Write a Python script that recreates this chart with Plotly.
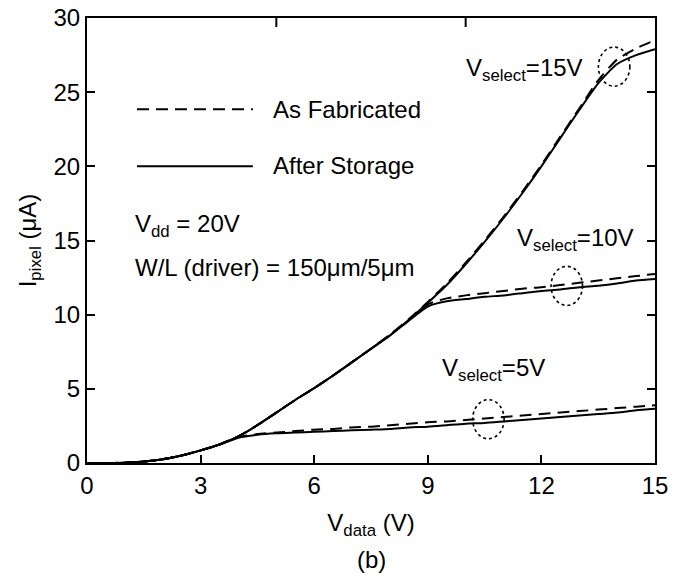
import plotly.graph_objects as go

v_data = [0, 0.5, 1, 1.5, 2, 2.5, 3, 3.5, 4, 4.5, 5, 5.5, 6, 6.5, 7, 7.5, 8, 8.5, 9,
          9.5, 10, 10.5, 11, 11.5, 12, 12.5, 13, 13.5, 14, 14.5, 15]

# V_select = 15 V
i15_fab = [0, 0, 0.02, 0.1, 0.25, 0.5, 0.85, 1.25, 1.8, 2.55, 3.4, 4.25, 5.05, 5.9, 6.8, 7.7, 8.65, 9.7,
           10.85, 12.1, 13.5, 15.0, 16.6, 18.3, 20.1, 22.0, 23.9, 25.8, 27.2, 27.95, 28.5]
i15_sto = [0, 0, 0.02, 0.1, 0.25, 0.5, 0.85, 1.25, 1.8, 2.55, 3.4, 4.25, 5.05, 5.9, 6.8, 7.7, 8.6, 9.65,
           10.8, 12.0, 13.4, 14.9, 16.5, 18.2, 20.0, 21.9, 23.8, 25.6, 26.9, 27.5, 27.9]

# V_select = 10 V
i10_fab = [0, 0, 0.02, 0.1, 0.25, 0.5, 0.85, 1.25, 1.8, 2.55, 3.4, 4.25, 5.05, 5.9, 6.8, 7.7, 8.65, 9.65,
           10.7, 11.1, 11.3, 11.45, 11.6, 11.75, 11.85, 12.0, 12.15, 12.3, 12.45, 12.6, 12.75]
i10_sto = [0, 0, 0.02, 0.1, 0.25, 0.5, 0.85, 1.25, 1.8, 2.55, 3.4, 4.25, 5.05, 5.9, 6.8, 7.7, 8.6, 9.6,
           10.55, 10.9, 11.05, 11.2, 11.3, 11.45, 11.6, 11.7, 11.85, 11.95, 12.1, 12.3, 12.4]

# V_select = 5 V
i5_fab = [0, 0, 0.02, 0.1, 0.25, 0.5, 0.85, 1.25, 1.75, 1.95, 2.05, 2.15, 2.25, 2.3, 2.4, 2.45, 2.55,
          2.65, 2.75, 2.8, 2.9, 3.0, 3.1, 3.2, 3.3, 3.4, 3.5, 3.6, 3.7, 3.8, 3.9]
i5_sto = [0, 0, 0.02, 0.1, 0.25, 0.5, 0.85, 1.25, 1.7, 1.9, 2.0, 2.05, 2.1, 2.15, 2.2, 2.25, 2.3,
          2.4, 2.45, 2.55, 2.65, 2.7, 2.8, 2.9, 3.0, 3.1, 3.2, 3.3, 3.4, 3.55, 3.65]

x_ticks = [0, 3, 6, 9, 12, 15]
y_ticks = [0, 5, 10, 15, 20, 25, 30]
top_ticks = [5, 10]

FONT = "Liberation Sans, Arial, sans-serif"
DASH = "12px,7px"

fig = go.Figure()
for fab, sto in [(i15_fab, i15_sto), (i10_fab, i10_sto), (i5_fab, i5_sto)]:
    fig.add_trace(go.Scatter(x=v_data, y=sto, mode="lines",
                             line=dict(color="black", width=2, shape="spline", smoothing=0.6),
                             showlegend=False, hoverinfo="skip"))
    fig.add_trace(go.Scatter(x=v_data, y=fab, mode="lines",
                             line=dict(color="black", width=2, dash=DASH, shape="spline", smoothing=0.6),
                             showlegend=False, hoverinfo="skip"))

shapes = []
# top-edge tick marks
for t in top_ticks:
    shapes.append(dict(type="line", xref="x", yref="paper", x0=t, x1=t, y0=1, y1=1 - 9 / 445,
                       line=dict(color="black", width=2), layer="above"))
# legend lines
shapes.append(dict(type="line", xref="x", yref="y", x0=1.32, x1=4.38, y0=23.85, y1=23.85,
                   line=dict(color="black", width=2, dash=DASH)))
shapes.append(dict(type="line", xref="x", yref="y", x0=1.32, x1=4.38, y0=20.0, y1=20.0,
                   line=dict(color="black", width=2)))
# dotted ellipses
for cx, cy in [(13.92, 26.72), (12.67, 11.94), (10.6, 2.95)]:
    shapes.append(dict(type="circle", xref="x", yref="y", x0=cx - 0.415, x1=cx + 0.415,
                       y0=cy - 1.32, y1=cy + 1.32, line=dict(color="black", width=1.6, dash="dot")))

ann = []
def txt(x, y, s, xanchor="left"):
    ann.append(dict(x=x, y=y, xref="x", yref="y", text=s, showarrow=False, xanchor=xanchor,
                    yanchor="middle", font=dict(family=FONT, size=24, color="black")))

txt(4.85, 23.85, "As Fabricated")
txt(4.85, 20.05, "After Storage")
txt(1.22, 16.03, "V<sub>dd</sub> = 20V")
txt(1.22, 13.15, "W/L (driver) = 150μm/5μm")
txt(9.95, 26.55, "V<sub>select</sub>=15V")
txt(11.3, 15.1, "V<sub>select</sub>=10V")
txt(9.33, 6.3, "V<sub>select</sub>=5V")

ann.append(dict(x=0.5, y=-0.216, xref="paper", yref="paper", text="(b)", showarrow=False,
                xanchor="center", yanchor="middle", font=dict(family=FONT, size=24, color="black")))

fig.update_layout(
    width=681, height=573,
    margin=dict(l=87, r=26, t=18, b=110, autoexpand=False),
    paper_bgcolor="white", plot_bgcolor="white",
    font=dict(family=FONT, size=24, color="black"),
    shapes=shapes, annotations=ann,
    xaxis=dict(range=[0, 15], tickvals=x_ticks, ticktext=[str(t) for t in x_ticks],
               ticks="inside", ticklen=8, tickwidth=2, tickcolor="black",
               showline=True, linecolor="black", linewidth=2, mirror=True,
               showgrid=False, zeroline=False, automargin=False, ticklabeloverflow="allow",
               title=dict(text="V<sub>data</sub> (V)", standoff=16,
                          font=dict(family=FONT, size=24))),
    yaxis=dict(range=[0, 30], tickvals=y_ticks, ticktext=[str(t) for t in y_ticks],
               ticks="inside", ticklen=8, tickwidth=2, tickcolor="black",
               showline=True, linecolor="black", linewidth=2, mirror="ticks",
               showgrid=False, zeroline=False, automargin=False, ticklabeloverflow="allow",
               title=dict(text="I<sub>pixel</sub> (μA)", standoff=10,
                          font=dict(family=FONT, size=24))),
)

fig.write_html("out.html", config={"displayModeBar": False},
               post_script="document.body.style.margin='0';")
